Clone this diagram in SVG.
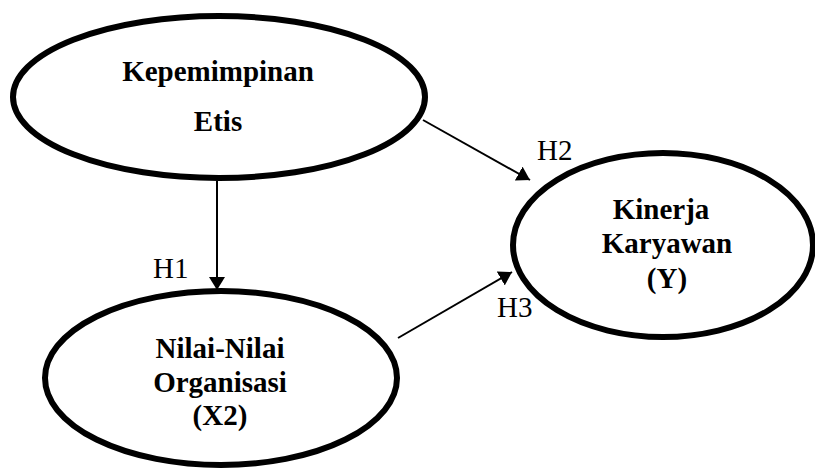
<svg xmlns="http://www.w3.org/2000/svg" width="815" height="468" viewBox="0 0 815 468">
<defs>
<style>
.node ellipse{fill:#fff;stroke:#000;stroke-width:6}
.lbl{font-family:"Liberation Serif","Times New Roman",serif;font-weight:bold;font-size:29px;fill:#000;text-anchor:middle}
.h{font-family:"Liberation Serif","Times New Roman",serif;font-size:29px;fill:#000}
.edge{stroke:#000;stroke-width:2;fill:none;marker-end:url(#arr)}
</style>
<marker id="arr" markerUnits="userSpaceOnUse" markerWidth="14" markerHeight="16" refX="13" refY="8" orient="auto">
<path d="M0,0 L13,8 L0,16 z" fill="#000"/>
</marker>
</defs>
<rect width="815" height="468" fill="#fff"/>
<g id="edges">
<line class="edge" x1="217" y1="181" x2="217" y2="290"/>
<line class="edge" x1="423" y1="120" x2="530" y2="180"/>
<line class="edge" x1="398" y1="338" x2="512" y2="272"/>
</g>
<g id="node-kepemimpinan" class="node">
<ellipse cx="219" cy="97" rx="206" ry="81"/>
<text class="lbl" x="218" y="81">Kepemimpinan</text>
<text class="lbl" x="218" y="131">Etis</text>
</g>
<g id="node-kinerja" class="node">
<ellipse cx="663" cy="245" rx="150" ry="92"/>
<text class="lbl" x="661" y="219">Kinerja</text>
<text class="lbl" x="667" y="253">Karyawan</text>
<text class="lbl" x="667" y="288">(Y)</text>
</g>
<g id="node-nilai" class="node">
<ellipse cx="221" cy="378" rx="176" ry="87"/>
<text class="lbl" x="220" y="358">Nilai-Nilai</text>
<text class="lbl" x="220" y="392">Organisasi</text>
<text class="lbl" x="220" y="425">(X2)</text>
</g>
<g id="labels">
<text class="h" x="153" y="278">H1</text>
<text class="h" x="537" y="160">H2</text>
<text class="h" x="497" y="317">H3</text>
</g>
</svg>
